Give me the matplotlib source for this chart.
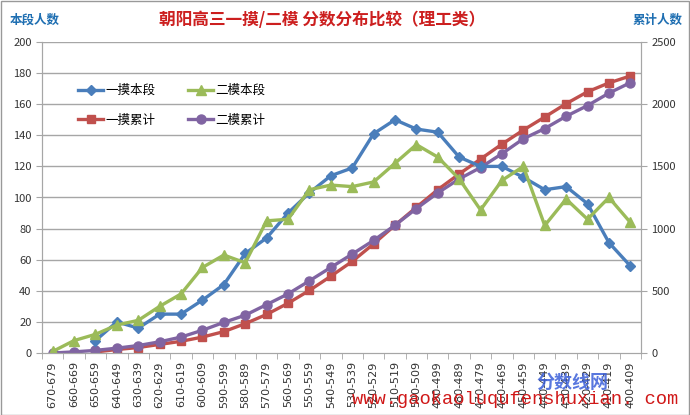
import numpy as np
import matplotlib.pyplot as plt
from matplotlib.patches import Rectangle

plt.rcParams['font.family'] = ['Noto Sans CJK SC', 'DejaVu Sans']

categories = ['670-679', '660-669', '650-659', '640-649', '630-639', '620-629', '610-619',
              '600-609', '590-599', '580-589', '570-579', '560-569', '550-559', '540-549',
              '530-539', '520-529', '510-519', '500-509', '490-499', '480-489', '470-479',
              '460-469', '450-459', '440-449', '430-439', '420-429', '410-419', '400-409']

# 一摸本段 (starts at 650-659)
yimo_seg = [np.nan, np.nan, 8, 20, 16, 25, 25, 34, 44, 64, 74, 90, 103, 114,
            119, 141, 150, 144, 142, 126, 120, 120, 113, 105, 107, 96, 71, 56]
# 二模本段
ermo_seg = [1, 8, 12, 18, 21, 30, 38, 55, 63, 58, 85, 86, 105, 108,
            107, 110, 122, 134, 126, 112, 92, 111, 120, 82, 99, 86, 100, 84]
# 一摸累计
yimo_cum = [np.nan, np.nan, 8, 28, 44, 69, 94, 128, 172, 236, 310, 400, 503, 617,
            736, 877, 1027, 1171, 1313, 1439, 1559, 1679, 1792, 1897, 2004, 2100, 2171, 2227]
# 二模累计
ermo_cum = [0, 9, 21, 39, 60, 90, 128, 183, 246, 304, 389, 475, 580, 688,
            795, 905, 1027, 1161, 1287, 1399, 1491, 1602, 1722, 1804, 1903, 1989, 2089, 2173]

left_ticks = list(range(0, 201, 20))
right_ticks = list(range(0, 2501, 500))

c_blue = '#4a7ebb'
c_green = '#9bbb59'
c_red = '#c0504d'
c_purple = '#8064a2'
c_grid = '#a6a6a6'
c_text = '#333333'

fig = plt.figure(figsize=(6.9, 4.15), dpi=100)
ax = fig.add_axes([42 / 690, 62 / 415, 599 / 690, 311 / 415])
ax2 = ax.twinx()

x = np.arange(len(categories))

ax.set_zorder(ax2.get_zorder() + 1)
ax.patch.set_visible(False)

l1, = ax.plot(x, yimo_seg, color=c_blue, lw=2.4, marker='D', ms=5, label='一摸本段')
l2, = ax.plot(x, ermo_seg, color=c_green, lw=2.4, marker='^', ms=7, label='二模本段')
l3, = ax2.plot(x, yimo_cum, color=c_red, lw=2.4, marker='s', ms=6, label='一摸累计')
l4, = ax2.plot(x, ermo_cum, color=c_purple, lw=2.4, marker='o', ms=6.5, label='二模累计')

ax.set_xlim(-0.5, len(categories) - 0.5)
ax.set_ylim(0, 200)
ax2.set_ylim(0, 2500)
ax.set_yticks(left_ticks)
ax2.set_yticks(right_ticks)
ax.set_xticks(x)
ax.set_xticklabels(categories, rotation=90, fontsize=8, color=c_text, family='DejaVu Sans')
ax.set_xticks(np.arange(-0.5, len(categories)), minor=True)
ax.tick_params(axis='x', which='major', length=0, pad=6)
ax.tick_params(axis='x', which='minor', length=4, color=c_grid)
ax.tick_params(axis='y', length=4, color=c_grid, labelsize=8, labelcolor=c_text)
ax2.tick_params(axis='y', length=4, color=c_grid, labelsize=8, labelcolor=c_text)

ax2.grid(False)
for t in left_ticks[1:]:
    ax2.axhline(t * 12.5, color=c_grid, lw=1, zorder=0)

for a in (ax, ax2):
    a.spines['top'].set_visible(False)
    for s in ('left', 'right', 'bottom'):
        a.spines[s].set_color(c_grid)

# column-wise fill: col 1 = 一摸, col 2 = 二模
fig.legend(handles=[l1, l3, l2, l4], ncol=2, frameon=False, fontsize=9,
           loc='upper left', bbox_to_anchor=(78 / 690, 1 - 84 / 415),
           borderpad=0, borderaxespad=0, handlelength=2.0, handletextpad=0.2,
           columnspacing=2.6, labelspacing=1.35)

fig.text(322 / 690, 1 - 20 / 415, '朝阳高三一摸/二模 分数分布比较（理工类）', color='#cc1f1f',
         fontsize=12, fontweight='bold', ha='center', va='center')
fig.text(10 / 690, 1 - 20 / 415, '本段人数', color='#1f6fb2', fontsize=9,
         fontweight='bold', ha='left', va='center')
fig.text(683 / 690, 1 - 20 / 415, '累计人数', color='#1f6fb2', fontsize=9,
         fontweight='bold', ha='right', va='center')

# watermark
fig.text(572 / 690, 1 - 382 / 415, '分数线网', color='#3b5fd9', fontsize=13,
         fontweight='bold', style='italic', ha='center', va='center', alpha=0.85)
fig.text(515 / 690, 1 - 399 / 415, 'www.gaokaoluqufenshuxian. com', color='#d01818',
         fontsize=13.5, family='Liberation Mono', ha='center', va='center')

fig.patches.append(Rectangle((0.001, 0.001), 0.997, 0.997, transform=fig.transFigure,
                             fill=False, edgecolor='#999999', lw=1))

fig.savefig('out.png', dpi=100)
